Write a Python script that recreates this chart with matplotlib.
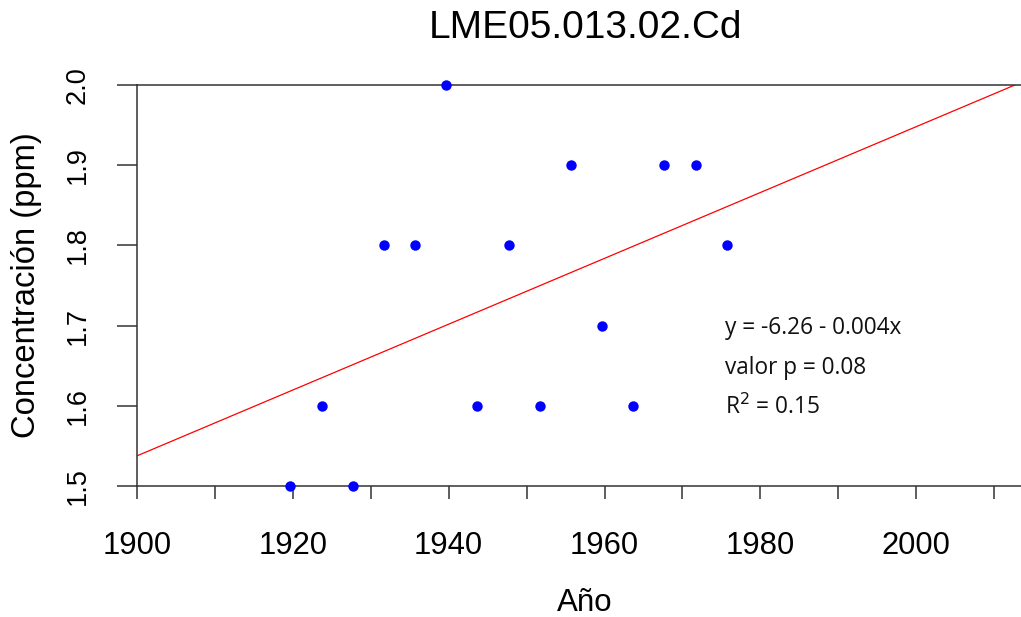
import matplotlib
matplotlib.use("Agg")
import matplotlib.pyplot as plt
import numpy as np

# data
years = [1919.7, 1923.7, 1927.7, 1931.7, 1935.7, 1939.7, 1943.7, 1947.7,
         1951.7, 1955.7, 1959.7, 1963.7, 1967.7, 1971.7, 1975.7]
conc = [1.5, 1.6, 1.5, 1.8, 1.8, 2.0, 1.6, 1.8, 1.6, 1.9, 1.7, 1.6, 1.9, 1.9, 1.8]
intercept = -6.26
slope = 0.004104
title = "LME05.013.02.Cd"
xlabel = "Año"
ylabel = "Concentración (ppm)"
xticks_major = [1900, 1920, 1940, 1960, 1980, 2000]
xticks_minor = [1910, 1930, 1950, 1970, 1990, 2010]
yticks = [1.5, 1.6, 1.7, 1.8, 1.9, 2.0]
ann = ["y = -6.26 - 0.004x", "valor p = 0.08", "R$^2$ = 0.15"]

W, H = 1021, 617
fig = plt.figure(figsize=(W / 100, H / 100), dpi=100)
x0, x1 = 137, 1072
y0, y1 = 85, 486
ax = fig.add_axes([x0 / W, 1 - y1 / H, (x1 - x0) / W, (y1 - y0) / H])
ax.set_xlim(1900, 2020)
ax.set_ylim(1.5, 2.0)

ax.plot(years, conc, 'o', color='#0000ff', ms=7.5, mec='none', clip_on=False, zorder=3)
xs = np.array(ax.get_xlim())
ax.plot(xs, intercept + slope * xs, color='#ff0000', lw=0.9, zorder=2)

font = "Liberation Sans"
for s in ax.spines.values():
    s.set_color('#333333')
    s.set_linewidth(1.1)

ax.set_xticks(xticks_major)
ax.set_xticks(xticks_minor, minor=True)
ax.set_xticklabels([str(t) for t in xticks_major], fontsize=22.3, family=font)
ax.tick_params(axis='x', which='both', direction='out', length=9.5, width=1.1,
               color='#333333', pad=23)
ax.set_yticks(yticks)
ax.set_yticklabels([f"{t:.1f}" for t in yticks], fontsize=19.5, family=font,
                   rotation=90, va='center')
ax.tick_params(axis='y', direction='out', length=14.5, width=1.1,
               color='#333333', pad=19)

fig.text(585 / W, 1 - 28 / H, title, fontsize=28, family=font, ha='center', va='center')
fig.text(585 / W, 1 - 603 / H, xlabel, fontsize=22.5, family=font, ha='center', va='center')
fig.text(27 / W, 1 - 285 / H, ylabel, fontsize=23.6, family=font, ha='center', va='center',
         rotation=90)

for t, yp in zip(ann, [328, 368, 407]):
    fig.text(725 / W, 1 - yp / H, t, fontsize=16.3, family="Open Sans", ha='left',
             va='center', color='#111111')

fig.savefig("out.png", dpi=100)
